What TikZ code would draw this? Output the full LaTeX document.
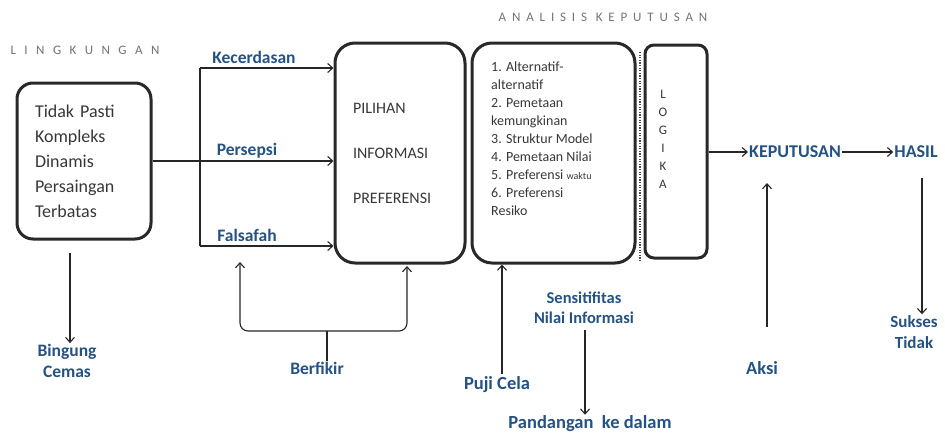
\documentclass[tikz,border=0pt]{standalone}
\usepackage{fontspec}
\setmainfont{Carlito}
\usetikzlibrary{arrows.meta,calc}
\definecolor{lblue}{RGB}{36,82,132}
\definecolor{boxline}{RGB}{40,40,40}
\definecolor{boxtext}{RGB}{55,55,55}
\tikzset{
  roundbox/.style={draw=boxline, line width=3pt, rounded corners=16pt, inner sep=0pt},
  bluelabel/.style={text=lblue, font=\bfseries\fontsize{17.5}{21}\selectfont, align=center, inner sep=1pt},
  boxcontent/.style={text=boxtext, align=left, inner sep=0pt},
  conn/.style={draw=black!85, line width=1.1pt},
  arr/.style={conn, -{Straight Barb[length=5pt,width=9pt]}},
  header/.style={text=black!55, inner sep=0pt}
}
\begin{document}
\begin{tikzpicture}[x=1pt,y=-1pt]
\useasboundingbox (0,0) rectangle (945,437);

% faint headings
\node[header, font=\fontsize{13}{14}\selectfont\addfontfeature{LetterSpace=65}] (hdenv) at (85,50) {LINGKUNGAN};
\node[header, font=\fontsize{13}{14}\selectfont\addfontfeature{LetterSpace=45}] (hdana) at (603,17) {ANALISIS KEPUTUSAN};

% environment box
\node[roundbox, minimum width=134pt, minimum height=156pt,
      text width=98pt, align=left, text=boxtext,
      font=\fontsize{18}{25}\selectfont] (env) at (84,161)
  {Tidak Pasti\\Kompleks\\Dinamis\\Persaingan\\Terbatas};

% choice / information / preference box
\node[roundbox, rounded corners=20pt, minimum width=130pt, minimum height=220pt,
      text width=94pt, align=left, text=boxtext,
      font=\fontsize{16}{45}\selectfont] (pil) at (400,153)
  {PILIHAN\\INFORMASI\\PREFERENSI};

% elements of the analysis
\node[roundbox, rounded corners=20pt, minimum width=163pt, minimum height=220pt] (list) at (553.5,153) {};
\node[boxcontent, anchor=north west, font=\fontsize{14}{18}\selectfont] (listtext) at (491,62)
  {1. Alternatif-\\alternatif\\2. Pemetaan\\kemungkinan\\3. Struktur Model\\4. Pemetaan Nilai\\5. Preferensi {\fontsize{10}{18}\selectfont waktu}\\6. Preferensi\\Resiko};

% dotted separator
\coordinate (dtop) at (640,52);
\coordinate (dbot) at (640,262);
\draw[black!70, line width=2.2pt, dash pattern=on 1.2pt off 1.4pt] (dtop) -- (dbot);

% logic box
\node[roundbox, rounded corners=9pt, minimum width=62pt, minimum height=213pt] (logika) at (676,151.5) {};
\node[text=boxtext, align=center, inner sep=0pt, font=\fontsize{13}{18}\selectfont] (logtext) at (663,139)
  {L\\O\\G\\I\\K\\A};

% labels
\node[bluelabel] (kecerdasan) at (254,57) {Kecerdasan};
\node[bluelabel] (persepsi) at (247,151) {Persepsi};
\node[bluelabel] (falsafah) at (247,235) {Falsafah};
\node[bluelabel] (bingung) at (67,361) {Bingung\\Cemas};
\node[bluelabel] (berfikir) at (317,368) {Berfikir};
\node[bluelabel, font=\bfseries\fontsize{18.5}{22}\selectfont] (pujicela) at (497,385) {Puji Cela};
\node[bluelabel, font=\bfseries\fontsize{16.5}{20}\selectfont] (sens) at (584,308) {Sensitifitas\\Nilai Informasi};
\node[bluelabel, font=\bfseries\fontsize{18.5}{21}\selectfont] (pandangan) at (590,424) {Pandangan~ ke dalam};
\node[bluelabel, font=\bfseries\fontsize{18}{20}\selectfont] (keputusan) at (795,152) {KEPUTUSAN};
\node[bluelabel, font=\bfseries\fontsize{18}{20}\selectfont] (hasil) at (916,152) {HASIL};
\node[bluelabel, font=\bfseries\fontsize{18.5}{22}\selectfont] (aksi) at (762,368) {Aksi};
\node[bluelabel, font=\bfseries\fontsize{17}{21}\selectfont] (sukses) at (914,332) {Sukses\\Tidak};

% environment to the three filters
\coordinate (jt) at (200,68);
\coordinate (jb) at (200,246);
\draw[conn] (jt) -- (jb);
\draw[arr] (jt) -- (pil.west |- jt);
\draw[arr] (env.east) -- (pil.west |- env.east);
\draw[arr] (jb) -- (pil.west |- jb);

% environment to confusion
\coordinate (envfoot) at (70,253);
\draw[arr] (envfoot) -- (envfoot |- bingung.north);

% thinking brace
\coordinate (brmid) at (327,331);
\coordinate (brleft) at (240,262);
\coordinate (brright) at (407,266);
\draw[conn] (berfikir.north -| brmid) -- (brmid);
\draw[arr, rounded corners=8pt] (brmid) -| (brleft);
\draw[arr, rounded corners=8pt] (brmid) -| (brright);

% praise and blame into the analysis
\coordinate (pujifoot) at (502,374);
\draw[arr] (pujifoot) -- (list.south -| pujifoot);

% sensitivity to inner view
\coordinate (senfoot) at (585,330);
\draw[arr] (senfoot) -- (senfoot |- pandangan.north);

% logic to decision to outcome
\draw[arr] (logika.east |- keputusan) -- (keputusan.west);
\draw[arr] (keputusan.east) -- (hasil.west);

% action up to decision
\coordinate (aksifoot) at (767,327);
\draw[arr] (aksifoot) -- (767,183);

% outcome down to success
\coordinate (hasilfoot) at (922,178);
\draw[arr] (hasilfoot) -- (hasilfoot |- sukses.north);
\end{tikzpicture}
\end{document}
